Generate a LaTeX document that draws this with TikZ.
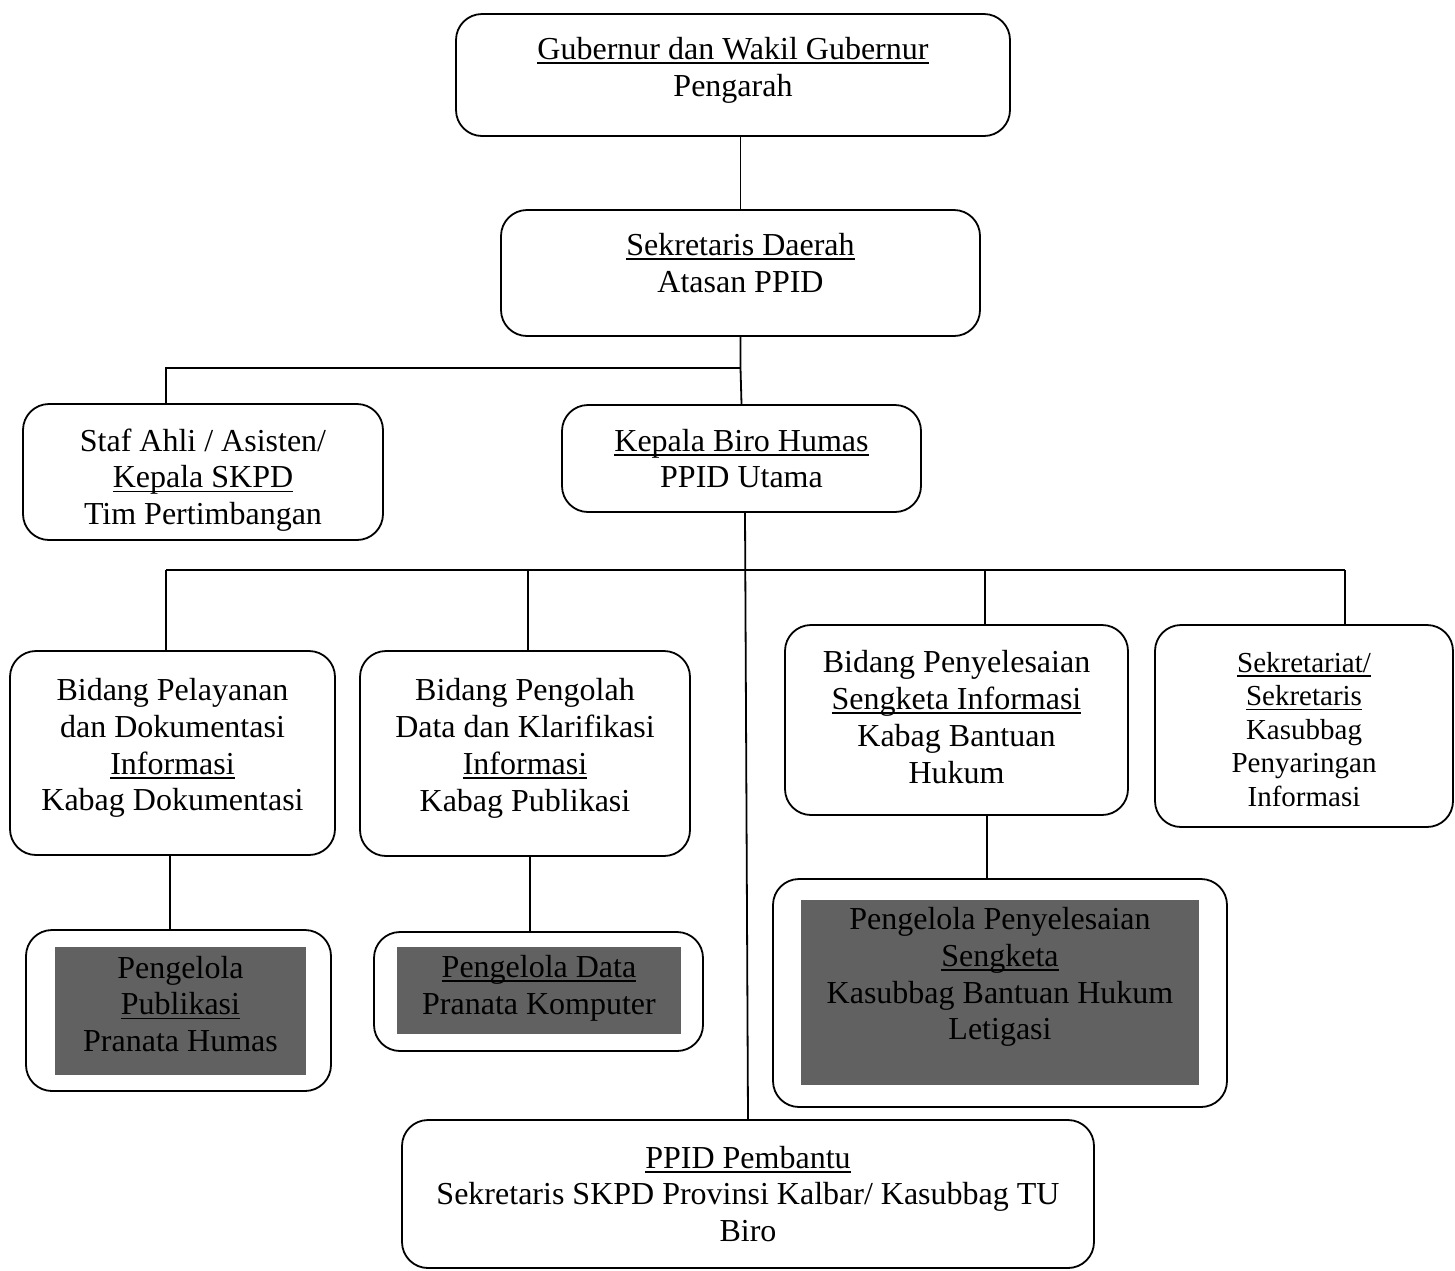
\documentclass[tikz,border=0pt]{standalone}
\usepackage{fontspec}
\setmainfont{Liberation Serif}
\newcommand{\ulx}[1]{\setbox0\hbox{#1}\rlap{\rule[-4.5pt]{\wd0}{1.6pt}}\box0}
\begin{document}
\begin{tikzpicture}[x=1pt,y=-1pt,
  box/.style={draw=black, line width=1.8pt, rounded corners=26pt, inner sep=0pt},
  darkbox/.style={fill=black!62, draw=none, inner sep=0pt},
  txt/.style={align=center, inner sep=0pt, font=\fontsize{32}{36.8}\selectfont},
  smalltxt/.style={txt, font=\fontsize{29}{33.5}\selectfont},
  conn/.style={line width=1.8pt}]
\useasboundingbox (0,0) rectangle (1455,1270);

% boxes
\node[box, minimum width=554, minimum height=122] (gub) at (733,75) {};
\node[box, minimum width=479, minimum height=126] (sekda) at (740.5,273) {};
\node[box, minimum width=360, minimum height=136] (staf) at (203,472) {};
\node[box, minimum width=359, minimum height=107] (kepala) at (741.5,458.5) {};
\node[box, minimum width=325, minimum height=204] (b1) at (172.5,753) {};
\node[box, minimum width=330, minimum height=205] (b2) at (525,753.5) {};
\node[box, minimum width=343, minimum height=190] (b3) at (956.5,720) {};
\node[box, minimum width=298, minimum height=202] (b4) at (1304,726) {};
\node[box, minimum width=305, minimum height=161] (p1o) at (178.5,1010.5) {};
\node[darkbox, minimum width=251, minimum height=128] (p1) at (180.5,1011) {};
\node[box, minimum width=329, minimum height=119] (p2o) at (538.5,991.5) {};
\node[darkbox, minimum width=284, minimum height=87] (p2) at (539,990.5) {};
\node[box, minimum width=454, minimum height=228] (p3o) at (1000,993) {};
\node[darkbox, minimum width=398, minimum height=185] (p3) at (1000,992.5) {};
\node[box, minimum width=692, minimum height=148] (pemb) at (748,1194) {};

% texts
\node[txt] (gubT) at (733,70) {\ulx{Gubernur dan Wakil Gubernur}\\Pengarah};
\node[txt] (sekdaT) at (740.5,263) {\ulx{Sekretaris Daerah}\\Atasan PPID};
\node[txt] (stafT) at (203,480) {Staf Ahli / Asisten/\\\ulx{Kepala SKPD}\\Tim Pertimbangan};
\node[txt] (kepalaT) at (741.5,458.5) {\ulx{Kepala Biro Humas}\\PPID Utama};
\node[txt] (b1T) at (172.5,748) {Bidang Pelayanan\\dan Dokumentasi\\\ulx{Informasi}\\Kabag Dokumentasi};
\node[txt] (b2T) at (525,748.5) {Bidang Pengolah\\Data dan Klarifikasi\\\ulx{Informasi}\\Kabag Publikasi};
\node[txt] (b3T) at (956.5,717) {Bidang Penyelesaian\\\ulx{Sengketa Informasi}\\Kabag Bantuan\\Hukum};
\node[smalltxt] (b4T) at (1304,729.5) {\ulx{Sekretariat/}\\\ulx{Sekretaris}\\Kasubbag\\Penyaringan\\Informasi};
\node[txt] (p1T) at (180.5,1004) {Pengelola\\\ulx{Publikasi}\\Pranata Humas};
\node[txt] (p2T) at (539,988) {\ulx{Pengelola Data}\\Pranata Komputer};
\node[txt] (p3T) at (1000,977) {Pengelola Penyelesaian\\\ulx{Sengketa}\\Kasubbag Bantuan Hukum\\Letigasi};
\node[txt] (pembT) at (748,1194) {\ulx{PPID Pembantu}\\Sekretaris SKPD Provinsi Kalbar/ Kasubbag TU\\Biro};

% connectors
\coordinate (busA) at (740.5,368);
\coordinate (sd) at (166,368);
\draw[conn] (gub.south -| sekda.north) -- (sekda.north);
\draw[conn] (sekda.south) -- (busA) -- (kepala.north);
\draw[conn] (busA) -- (sd) -- (sd |- staf.north);

\coordinate (bL) at (166,570);
\coordinate (bR) at (1345,570);
\coordinate (d2) at (528,570);
\coordinate (d3) at (985,570);
\coordinate (kd) at (745,570);
\draw[conn] (bL) -- (bR);
\draw[conn] (kd |- kepala.south) -- (pemb.north);
\draw[conn] (bL) -- (bL |- b1.north);
\draw[conn] (d2) -- (d2 |- b2.north);
\draw[conn] (d3) -- (d3 |- b3.north);
\draw[conn] (bR) -- (bR |- b4.north);

\coordinate (e1) at (170,890);
\coordinate (e2) at (530,890);
\coordinate (e3) at (987,850);
\draw[conn] (e1 |- b1.south) -- (e1 |- p1o.north);
\draw[conn] (e2 |- b2.south) -- (e2 |- p2o.north);
\draw[conn] (e3 |- b3.south) -- (e3 |- p3o.north);
\end{tikzpicture}
\end{document}
